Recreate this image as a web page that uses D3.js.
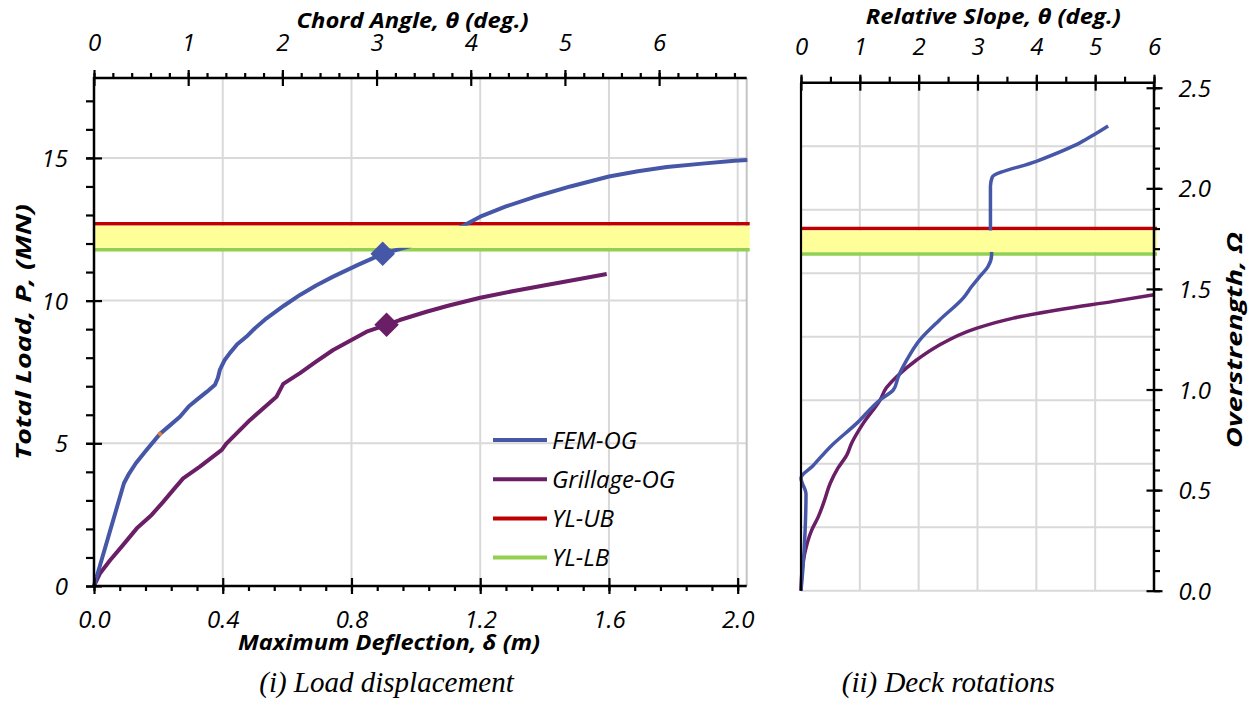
<!DOCTYPE html>
<html>
<head>
<meta charset="utf-8">
<script src="https://cdn.jsdelivr.net/npm/d3@7"></script>
<style>
  html, body { margin: 0; padding: 0; background: #ffffff; }
  svg { display: block; }
  .tick text { font-family: "Open Sans", sans-serif; font-style: italic; font-size: 24px; fill: #000; }
  .tick line { stroke: #000; stroke-width: 2.2; }
</style>
</head>
<body>
<svg id="chart" width="1252" height="702"></svg>
<script>
// ---- Panel (i): load vs. maximum deflection ----
const femDeflection = [0, 0.093, 0.107, 0.13, 0.16, 0.205, 0.235, 0.267, 0.295, 0.319, 0.35, 0.376, 0.385, 0.391, 0.405, 0.422, 0.445, 0.474, 0.5, 0.536, 0.59, 0.64, 0.69, 0.743, 0.82, 0.897, 0.98, 1.05, 1.137, 1.2, 1.28, 1.365, 1.48, 1.6, 1.69, 1.78, 1.89, 1.99, 2.03];
const femLoad       = [0, 3.6, 3.9, 4.3, 4.72, 5.33, 5.62, 5.93, 6.3, 6.52, 6.8, 7.05, 7.3, 7.57, 7.9, 8.16, 8.47, 8.74, 9.03, 9.38, 9.82, 10.2, 10.53, 10.84, 11.25, 11.64, 11.9, 12.2, 12.56, 12.94, 13.3, 13.62, 14.0, 14.35, 14.53, 14.68, 14.8, 14.9, 14.93];
const grillDeflection = [0, 0.019, 0.05, 0.086, 0.133, 0.179, 0.215, 0.245, 0.277, 0.329, 0.397, 0.412, 0.485, 0.567, 0.588, 0.64, 0.69, 0.743, 0.8, 0.847, 0.909, 0.95, 1.033, 1.1, 1.2, 1.3, 1.406, 1.5, 1.593];
const grillLoad       = [0, 0.45, 0.9, 1.38, 2.02, 2.49, 2.95, 3.35, 3.77, 4.18, 4.77, 5.0, 5.82, 6.63, 7.08, 7.46, 7.86, 8.27, 8.62, 8.91, 9.15, 9.32, 9.61, 9.82, 10.1, 10.33, 10.55, 10.74, 10.93];
const yieldLoadUB = 12.69;
const yieldLoadLB = 11.78;
const femMarker   = [0.897, 11.64];
const grillMarker = [0.909, 9.15];
const crackMarker = [0.205, 5.33];

const deflectionTicks = [0, 0.4, 0.8, 1.2, 1.6, 2.0];
const loadTicks       = [0, 5, 10, 15];
const chordTicks      = [0, 1, 2, 3, 4, 5, 6];

// ---- Panel (ii): overstrength vs. relative slope ----
const femSlope = [0, 0.03, 0.07, 0.085, 0.0, 0.2, 0.5, 0.95, 1.346, 1.57, 1.655, 1.8, 2.02, 2.36, 2.76, 2.9, 3.04, 3.18, 3.24, 3.22, 3.22, 3.25, 4.0, 4.74, 5.0, 5.22];
const femOmega = [0, 0.1, 0.3, 0.48, 0.56, 0.62, 0.716, 0.833, 0.949, 0.998, 1.065, 1.148, 1.247, 1.347, 1.455, 1.512, 1.562, 1.612, 1.67, 1.8, 2.01, 2.055, 2.134, 2.226, 2.27, 2.31];
const grillSlope = [0, 0.01, 0.06, 0.18, 0.295, 0.4, 0.497, 0.63, 0.78, 0.86, 1.06, 1.346, 1.448, 1.63, 1.97, 2.31, 2.99, 3.61, 4.46, 5.31, 6.0];
const grillOmega = [0, 0.07, 0.18, 0.30, 0.368, 0.45, 0.534, 0.61, 0.675, 0.733, 0.833, 0.949, 1.007, 1.065, 1.148, 1.214, 1.305, 1.355, 1.40, 1.438, 1.471];
const yieldOmegaUB = 1.80;
const yieldOmegaLB = 1.674;

const slopeTicks = [0, 1, 2, 3, 4, 5, 6];
const omegaTicks = [0, 0.5, 1.0, 1.5, 2.0, 2.5];

const legendNames = ["FEM-OG", "Grillage-OG", "YL-UB", "YL-LB"];

// ---- styling ----
const colors = {
  fem: "#4657a8",
  grill: "#6a1e66",
  ub: "#c00000",
  lb: "#92d050",
  band: "#ffff99",
  grid: "#d9d9d9",
  crack: "#ed7d31"
};
const legendColors = [colors.fem, colors.grill, colors.ub, colors.lb];

const svg = d3.select("#chart");
const zip = (xs, ys) => xs.map((x, i) => [x, ys[i]]);

// ======================= Panel (i) =======================
const L = { left: 94, right: 746.7, top: 78, bottom: 586 };
const xDef = d3.scaleLinear().domain([0, 2.028]).range([L.left, L.right]);
const xChord = d3.scaleLinear().domain([0, 6.93]).range([L.left, L.right]);
const yLoad = d3.scaleLinear().domain([0, 17.8]).range([L.bottom, L.top]);

const p1 = svg.append("g");

// gridlines
p1.append("g").selectAll("line").data(deflectionTicks.filter(d => d > 0)).join("line")
  .attr("x1", d => xDef(d)).attr("x2", d => xDef(d))
  .attr("y1", L.top).attr("y2", L.bottom)
  .attr("stroke", colors.grid).attr("stroke-width", 2);
p1.append("g").selectAll("line").data(loadTicks.filter(d => d > 0)).join("line")
  .attr("x1", L.left).attr("x2", L.right)
  .attr("y1", d => yLoad(d)).attr("y2", d => yLoad(d))
  .attr("stroke", colors.grid).attr("stroke-width", 2);
// plot-area right border
p1.append("line").attr("x1", L.right).attr("x2", L.right).attr("y1", L.top).attr("y2", L.bottom)
  .attr("stroke", "#c4c4c4").attr("stroke-width", 2);

// yield limit lines
p1.append("line").attr("x1", L.left).attr("x2", L.right + 3)
  .attr("y1", yLoad(yieldLoadUB)).attr("y2", yLoad(yieldLoadUB))
  .attr("stroke", colors.ub).attr("stroke-width", 3.5);
p1.append("line").attr("x1", L.left).attr("x2", L.right + 3)
  .attr("y1", yLoad(yieldLoadLB)).attr("y2", yLoad(yieldLoadLB))
  .attr("stroke", colors.lb).attr("stroke-width", 3.5);

// curves
const line1 = d3.line().x(d => xDef(d[0])).y(d => yLoad(d[1]));
p1.append("path").datum(zip(grillDeflection, grillLoad)).attr("d", line1)
  .attr("fill", "none").attr("stroke", colors.grill).attr("stroke-width", 4).attr("stroke-linejoin", "round");
p1.append("path").datum(zip(femDeflection, femLoad)).attr("d", line1)
  .attr("fill", "none").attr("stroke", colors.fem).attr("stroke-width", 4).attr("stroke-linejoin", "round");

// yield band between the two limits
p1.append("rect")
  .attr("x", L.left).attr("width", L.right + 3 - L.left)
  .attr("y", yLoad(yieldLoadUB) + 2).attr("height", yLoad(yieldLoadLB) - yLoad(yieldLoadUB) - 4)
  .attr("fill", colors.band);

// markers
const diamond = d3.symbol().type(d3.symbolSquare).size(300);
p1.append("path").attr("d", diamond)
  .attr("transform", `translate(${xDef(femMarker[0])},${yLoad(femMarker[1])}) rotate(45)`)
  .attr("fill", colors.fem);
p1.append("path").attr("d", diamond)
  .attr("transform", `translate(${xDef(grillMarker[0])},${yLoad(grillMarker[1])}) rotate(45)`)
  .attr("fill", colors.grill);
p1.append("path").attr("d", d3.symbol().type(d3.symbolSquare).size(14))
  .attr("transform", `translate(${xDef(crackMarker[0])},${yLoad(crackMarker[1])}) rotate(45)`)
  .attr("fill", colors.crack);

// axes
function styleCross(g, attr, val) {
  g.select(".domain").remove();
  g.selectAll(".tick line").attr(attr, val);
}
// left axis
p1.append("g").attr("transform", `translate(${L.left},0)`)
  .call(d3.axisLeft(yLoad).tickValues(d3.range(0, 18, 1)).tickSize(8).tickFormat(""))
  .call(g => g.select(".domain").remove());
p1.append("g").attr("transform", `translate(${L.left},0)`)
  .call(d3.axisLeft(yLoad).tickValues(loadTicks).tickSize(8).tickPadding(18).tickFormat(d3.format("d")))
  .call(g => styleCross(g, "x1", 8))
  .call(g => g.selectAll(".tick text").attr("dy", "0.36em"));
p1.append("line").attr("x1", L.left).attr("x2", L.left).attr("y1", L.top - 1).attr("y2", L.bottom + 1)
  .attr("stroke", "#000").attr("stroke-width", 2.5);

// bottom axis
p1.append("g").attr("transform", `translate(0,${L.bottom})`)
  .call(d3.axisBottom(xDef).tickValues(d3.range(0, 2.01, 0.08)).tickSize(5).tickFormat(""))
  .call(g => g.select(".domain").remove());
p1.append("g").attr("transform", `translate(0,${L.bottom})`)
  .call(d3.axisBottom(xDef).tickValues(deflectionTicks).tickSize(8).tickFormat(d3.format(".1f")))
  .call(g => styleCross(g, "y1", -8))
  .call(g => g.selectAll(".tick text").attr("y", 42).attr("dy", null));
p1.append("line").attr("x1", L.left - 1).attr("x2", L.right).attr("y1", L.bottom).attr("y2", L.bottom)
  .attr("stroke", "#000").attr("stroke-width", 2.5);

// top axis (chord angle)
p1.append("g").attr("transform", `translate(0,${L.top})`)
  .call(d3.axisTop(xChord).tickValues(d3.range(0, 6.9, 0.2)).tickSize(5).tickFormat(""))
  .call(g => g.select(".domain").remove());
p1.append("g").attr("transform", `translate(0,${L.top})`)
  .call(d3.axisTop(xChord).tickValues(chordTicks).tickSize(8).tickFormat(d3.format("d")))
  .call(g => styleCross(g, "y1", 8))
  .call(g => g.selectAll(".tick text").attr("y", -27.5).attr("dy", null));
p1.append("line").attr("x1", L.left - 1).attr("x2", L.right).attr("y1", L.top).attr("y2", L.top)
  .attr("stroke", "#000").attr("stroke-width", 2.5);

// legend
const leg = p1.append("g");
legendNames.forEach((name, i) => {
  const ly = 440 + i * 39.2;
  leg.append("line").attr("x1", 493).attr("x2", 547).attr("y1", ly).attr("y2", ly)
    .attr("stroke", legendColors[i]).attr("stroke-width", 4);
  leg.append("text").attr("x", 552).attr("y", ly + 8.5).text(name)
    .attr("font-family", "Open Sans, sans-serif").attr("font-style", "italic").attr("font-size", 24);
});

// ======================= Panel (ii) =======================
const R = { left: 801, right: 1154, top: 82.7, bottom: 590.7 };
const xSlope = d3.scaleLinear().domain([0, 6]).range([R.left, R.right]);
const yOmega = d3.scaleLinear().domain([0, 2.525]).range([R.bottom, R.top]);
const yGrid = d3.scaleLinear().domain([0, 8]).range([R.bottom, R.top]);

const p2 = svg.append("g");
p2.append("g").selectAll("line").data(d3.range(1, 7)).join("line")
  .attr("x1", d => xSlope(d)).attr("x2", d => xSlope(d))
  .attr("y1", R.top).attr("y2", R.bottom)
  .attr("stroke", colors.grid).attr("stroke-width", 2);
p2.append("g").selectAll("line").data(d3.range(0, 8)).join("line")
  .attr("x1", R.left).attr("x2", R.right)
  .attr("y1", d => yGrid(d)).attr("y2", d => yGrid(d))
  .attr("stroke", colors.grid).attr("stroke-width", 2);

p2.append("line").attr("x1", R.left).attr("x2", R.right + 3)
  .attr("y1", yOmega(yieldOmegaUB)).attr("y2", yOmega(yieldOmegaUB))
  .attr("stroke", colors.ub).attr("stroke-width", 3.5);
p2.append("line").attr("x1", R.left).attr("x2", R.right + 3)
  .attr("y1", yOmega(yieldOmegaLB)).attr("y2", yOmega(yieldOmegaLB))
  .attr("stroke", colors.lb).attr("stroke-width", 3.5);

const line2 = d3.line().curve(d3.curveMonotoneY).x(d => xSlope(d[0])).y(d => yOmega(d[1]));
p2.append("path").datum(zip(grillSlope, grillOmega)).attr("d", line2)
  .attr("fill", "none").attr("stroke", colors.grill).attr("stroke-width", 3.5).attr("stroke-linejoin", "round");
p2.append("path").datum(zip(femSlope, femOmega)).attr("d", line2)
  .attr("fill", "none").attr("stroke", colors.fem).attr("stroke-width", 3.5).attr("stroke-linejoin", "round");

p2.append("rect")
  .attr("x", R.left).attr("width", R.right + 3 - R.left)
  .attr("y", yOmega(yieldOmegaUB) + 2).attr("height", yOmega(yieldOmegaLB) - yOmega(yieldOmegaUB) - 4)
  .attr("fill", colors.band);

// left frame line
p2.append("line").attr("x1", R.left).attr("x2", R.left).attr("y1", R.top).attr("y2", R.bottom)
  .attr("stroke", "#000").attr("stroke-width", 2.2);

// top axis (relative slope)
p2.append("g").attr("transform", `translate(0,${R.top})`)
  .call(d3.axisTop(xSlope).tickValues(d3.range(0, 6.01, 0.5)).tickSize(6).tickFormat(""))
  .call(g => g.select(".domain").remove());
p2.append("g").attr("transform", `translate(0,${R.top})`)
  .call(d3.axisTop(xSlope).tickValues(slopeTicks).tickSize(8).tickFormat(d3.format("d")))
  .call(g => styleCross(g, "y1", 8))
  .call(g => g.selectAll(".tick text").attr("y", -28).attr("dy", null));
p2.append("line").attr("x1", R.left - 1).attr("x2", R.right + 1).attr("y1", R.top).attr("y2", R.top)
  .attr("stroke", "#000").attr("stroke-width", 2.5);

// right axis (overstrength)
p2.append("g").attr("transform", `translate(${R.right},0)`)
  .call(d3.axisRight(yOmega).tickValues(d3.range(0, 2.51, 0.1)).tickSize(6).tickFormat(""))
  .call(g => g.select(".domain").remove());
p2.append("g").attr("transform", `translate(${R.right},0)`)
  .call(d3.axisRight(yOmega).tickValues(omegaTicks).tickSize(8.5).tickPadding(16).tickFormat(d3.format(".1f")))
  .call(g => styleCross(g, "x1", -7.5))
  .call(g => g.selectAll(".tick text").attr("dy", "0.36em"));
p2.append("line").attr("x1", R.right).attr("x2", R.right).attr("y1", R.top - 1).attr("y2", R.bottom + 1)
  .attr("stroke", "#000").attr("stroke-width", 2.5);

// ======================= Titles =======================
function title(x, y, txt, len, rot) {
  const t = svg.append("text")
    .attr("text-anchor", "middle")
    .attr("font-family", "Open Sans, sans-serif")
    .attr("font-style", "italic").attr("font-weight", "bold")
    .attr("font-size", 21)
    .attr("textLength", len).attr("lengthAdjust", "spacingAndGlyphs")
    .text(txt);
  if (rot) t.attr("transform", `translate(${x},${y}) rotate(-90)`);
  else t.attr("x", x).attr("y", y);
  return t;
}
title(412.5, 28, "Chord Angle, θ (deg.)", 232);
title(389, 650, "Maximum Deflection, δ (m)", 302);
title(993.3, 24, "Relative Slope, θ (deg.)", 255);
title(31, 332, "Total Load, P, (MN)", 256, true);
title(1242, 340, "Overstrength,  Ω", 216, true);

function caption(x, txt) {
  svg.append("text").attr("x", x).attr("y", 692).attr("text-anchor", "middle")
    .attr("font-family", "Liberation Serif, Times New Roman, serif")
    .attr("font-style", "italic").attr("font-size", 29)
    .text(txt);
}
caption(386.5, "(i) Load displacement");
caption(948.3, "(ii) Deck rotations");
</script>
</body>
</html>
